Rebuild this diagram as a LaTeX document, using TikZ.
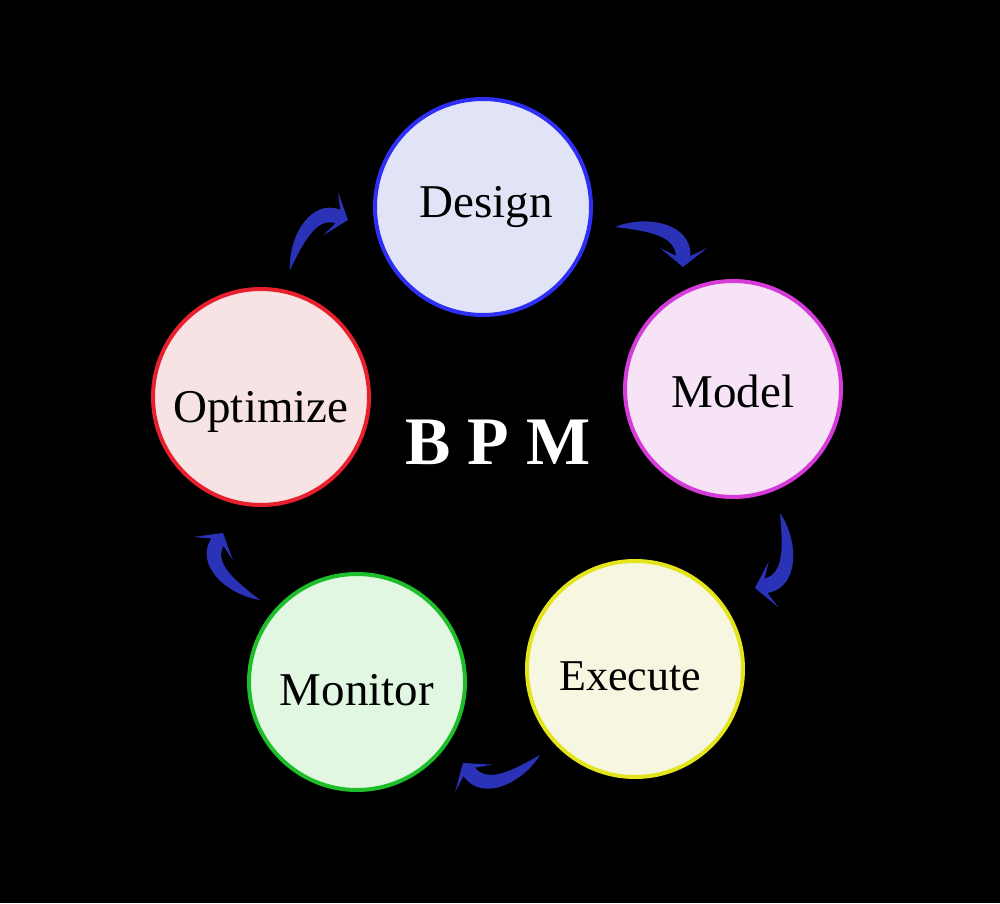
\documentclass[tikz,border=0pt]{standalone}
\usepackage{fontspec}
\setmainfont{Liberation Serif}
\usetikzlibrary{calc, positioning}
\definecolor{designline}{HTML}{2E2EF5}
\definecolor{designfill}{HTML}{E1E4F7}
\definecolor{modelline}{HTML}{D43BD8}
\definecolor{modelfill}{HTML}{F6E3F6}
\definecolor{executeline}{HTML}{E4E41C}
\definecolor{executefill}{HTML}{F7F7E1}
\definecolor{monitorline}{HTML}{1EBE2A}
\definecolor{monitorfill}{HTML}{E1F7E1}
\definecolor{optimizeline}{HTML}{E8202E}
\definecolor{optimizefill}{HTML}{F7E3E3}
\definecolor{arrowblue}{HTML}{2A33B8}

% curved tapered arrow from one named coordinate to another
\newcommand{\cyclearrow}[2]{%
    \path let \p1 = ($(#2)-(#1)$) in \pgfextra{%
        \pgfmathsetmacro\arrang{atan2(\y1,\x1)}%
        \pgfmathsetmacro\arrlen{veclen(\x1,\y1)}%
        \xdef\arrang{\arrang}\xdef\arrlen{\arrlen}};
    \begin{scope}[shift={(#1)}, rotate=\arrang, scale=\arrlen]
        \fill[flowarrow] (0,0) .. controls (0.27,0.35) and (0.82,0.53) .. (1.01,0.168)
            -- (1.14,0.36) -- (1,0) -- (0.625,0.06) -- (0.85,0.076)
            .. controls (0.7,0.31) and (0.33,0.14) .. (0,0) -- cycle;
    \end{scope}}

\begin{document}
\begin{tikzpicture}[x=1pt, y=1pt]
        \tikzstyle{stage} = [circle, line width=4pt, minimum size=216pt, inner sep=0pt]
        \tikzstyle{stagetext} = [anchor=base, inner sep=0pt, font=\fontsize{47}{56}\selectfont]
        \tikzstyle{flowarrow} = [fill=arrowblue]

        \fill[black] (0,0) rectangle (1000,903);
        \useasboundingbox (0,0) rectangle (1000,903);

        \node[stage, draw=designline, fill=designfill] (design) at (483,696) {};
        \node[stage, draw=modelline, fill=modelfill] (model) at (733,514) {};
        \node[stage, draw=executeline, fill=executefill] (execute) at (635,234) {};
        \node[stage, draw=monitorline, fill=monitorfill] (monitor) at (357,221) {};
        \node[stage, draw=optimizeline, fill=optimizefill] (optimize) at (261,506) {};

        \node[stagetext] (design-text) at ($(design)+(3,-10.5)$) {Design};
        \node[stagetext] (model-text) at ($(model)+(0,-18.5)$) {Model};
        \node[stagetext, font=\fontsize{44}{52}\selectfont] (execute-text) at ($(execute)+(-5,-21)$) {Execute};
        \node[stagetext] (monitor-text) at ($(monitor)+(0,-23.5)$) {Monitor};
        \node[stagetext] (optimize-text) at ($(optimize)+(0,-25.5)$) {Optimize};

        \node[text=white, font=\bfseries\fontsize{68}{80}\selectfont] (bpm) at (498,461) {B P M};

        \coordinate (design-out) at ($(design)+(132,-20)$);
        \coordinate (model-in) at ($(model)+(-50,122)$);
        \coordinate (model-out) at ($(model)+(47,-124)$);
        \coordinate (execute-in) at ($(execute)+(120,81)$);
        \coordinate (execute-out) at ($(execute)+(-95,-86)$);
        \coordinate (monitor-in) at ($(monitor)+(106,-81)$);
        \coordinate (monitor-out) at ($(monitor)+(-97,82)$);
        \coordinate (optimize-in) at ($(optimize)+(-38,-136)$);
        \coordinate (optimize-out) at ($(optimize)+(29,127)$);
        \coordinate (design-in) at ($(design)+(-135,-13)$);

        \cyclearrow{design-out}{model-in}
        \cyclearrow{model-out}{execute-in}
        \cyclearrow{execute-out}{monitor-in}
        \cyclearrow{monitor-out}{optimize-in}
        \cyclearrow{optimize-out}{design-in}
\end{tikzpicture}
\end{document}
